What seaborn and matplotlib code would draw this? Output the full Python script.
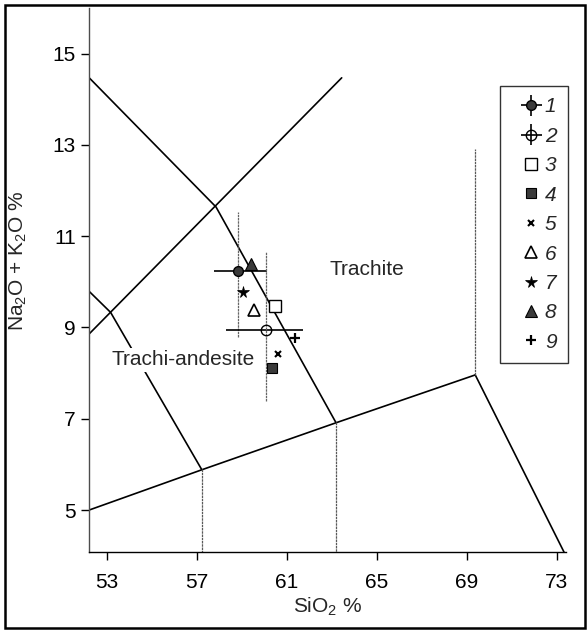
import matplotlib
matplotlib.use("Agg")
import matplotlib.pyplot as plt
from matplotlib.patches import Rectangle
import seaborn as sns
import numpy as np

# ---------------- data ----------------
# boundary lines of the TAS fields (SiO2, Na2O+K2O)
main_x = [52.23, 57.86, 63.18]
main_y = [14.47, 11.64, 6.92]
upper_x = [52.23, 63.44]
upper_y = [8.86, 14.47]
left_x = [52.23, 53.18, 57.22]
left_y = [9.79, 9.33, 5.89]
lower_x = [52.23, 57.22, 63.18, 69.37]
lower_y = [5.00, 5.88, 6.91, 7.96]
right_x = [69.37, 73.31]
right_y = [7.96, 4.08]
vert_x = [57.22, 63.18, 69.37]
vert_y0 = [5.89, 6.92, 7.96]
vert_y1 = [4.08, 4.08, 12.91]

# samples
sample_ids = ["1", "2", "3", "4", "5", "6", "7", "8", "9"]
sample_x = [58.85, 60.08, 60.48, 60.33, 60.63, 59.55, 59.07, 59.41, 61.37]
sample_y = [10.24, 8.95, 9.48, 8.11, 8.42, 9.39, 9.77, 10.39, 8.77]
# ranges for samples 1 and 2
err_x_low = [57.77, 58.30]
err_x_high = [60.11, 61.74]
err_y_low = [8.80, 7.39]
err_y_high = [11.54, 10.66]

x_ticks = [53, 57, 61, 65, 69, 73]
y_ticks = [5, 7, 9, 11, 13, 15]

field_labels = ["Trachite", "Trachi-andesite"]
field_x = [64.56, 56.41]
field_y = [10.28, 8.29]

# ---------------- style ----------------
sns.set_theme(style="ticks")
plt.rcParams["font.family"] = ["Liberation Sans", "DejaVu Sans"]
plt.rcParams["mathtext.fontset"] = "custom"
plt.rcParams["mathtext.rm"] = "Liberation Sans"
plt.rcParams["mathtext.it"] = "Liberation Sans:italic"
plt.rcParams["mathtext.default"] = "regular"

W, H = 588, 631
fig = plt.figure(figsize=(W / 100, H / 100), dpi=100)
ax = fig.add_axes([89 / W, 1 - 552 / H, (566 - 89) / W, (552 - 8) / H])

lw = 1.2
for xs, ys in [(main_x, main_y), (upper_x, upper_y), (left_x, left_y),
               (lower_x, lower_y), (right_x, right_y)]:
    sns.lineplot(x=xs, y=ys, ax=ax, sort=False, estimator=None,
                 color="black", lw=lw, zorder=2)
for vx, a, b in zip(vert_x, vert_y0, vert_y1):
    ax.plot([vx, vx], [a, b], color="0.35", lw=0.9, ls=(0, (2, 0.6)), zorder=2)

# field labels
for lab, fx, fy in zip(field_labels, field_x, field_y):
    ax.text(fx, fy, lab, ha="center", va="center", fontsize=15, zorder=3,
            bbox=dict(facecolor="white", edgecolor="none", pad=2))

# samples with ranges
handles = []
dark = "#3a3a3a"
e1 = ax.errorbar(sample_x[0], sample_y[0],
                 xerr=[[sample_x[0] - err_x_low[0]], [err_x_high[0] - sample_x[0]]],
                 yerr=[[sample_y[0] - err_y_low[0]], [err_y_high[0] - sample_y[0]]],
                 fmt="o", ms=7, mfc=dark, mec="black", ecolor="black",
                 elinewidth=1.2, capsize=0, zorder=5)
e2 = ax.errorbar(sample_x[1], sample_y[1],
                 xerr=[[sample_x[1] - err_x_low[1]], [err_x_high[1] - sample_x[1]]],
                 yerr=[[sample_y[1] - err_y_low[1]], [err_y_high[1] - sample_y[1]]],
                 fmt="o", ms=7.5, mfc="none", mec="black", mew=1.0, ecolor="black",
                 elinewidth=1.2, capsize=0, zorder=5)
for e in (e1, e2):
    e[2][1].set_color("0.4")
    e[2][1].set_linewidth(0.9)
    e[2][1].set_linestyle((0, (2, 0.6)))
handles += [e1, e2]

styles = [
    dict(marker="s", ms=8.5, mfc="white", mec="black", mew=1.0),
    dict(marker="s", ms=7, mfc=dark, mec="black", mew=0.8),
    dict(marker="x", ms=4.5, mec="black", mew=1.5),
    dict(marker="^", ms=8.5, mfc="white", mec="black", mew=1.2),
    dict(marker="*", ms=8.5, mfc="black", mec="black", mew=0.5),
    dict(marker="^", ms=8, mfc=dark, mec="black", mew=0.8),
    dict(marker="+", ms=6.5, mec="black", mew=1.6),
]
for i, st in enumerate(styles):
    h, = ax.plot([sample_x[i + 2]], [sample_y[i + 2]], ls="none", zorder=5, **st)
    handles.append(h)

# axes
ax.set_xlim(52.22, 73.4)
ax.set_ylim(4.08, 16.0)
ax.set_xticks(x_ticks)
ax.set_yticks(y_ticks)
ax.tick_params(axis="both", direction="out", length=6, width=1, colors="black",
               labelsize=15)
ax.tick_params(axis="x", pad=9)
ax.tick_params(axis="y", pad=3.5)
sns.despine(ax=ax)
ax.spines["left"].set_color("0.3")
ax.spines["bottom"].set_color("black")
ax.spines["left"].set_linewidth(1.0)
ax.spines["bottom"].set_linewidth(1.0)
ax.set_facecolor("white")

ax.set_xlabel("SiO$_2$ %", fontsize=15, labelpad=3)
ax.set_ylabel("Na$_2$O + K$_2$O %", fontsize=15)
ax.yaxis.set_label_coords(-0.125, 0.535)

leg = ax.legend(handles, sample_ids, loc="upper left",
                bbox_to_anchor=(500 / W, 1 - 86 / H), bbox_transform=fig.transFigure,
                borderaxespad=0, frameon=True, fancybox=False, edgecolor="black",
                prop=dict(family="Liberation Sans", style="italic", size=15),
                handlelength=1.9, handletextpad=-0.3, borderpad=0.55,
                labelspacing=0.5)
leg.get_frame().set_linewidth(1.0)

fig.patches.append(Rectangle((5 / W, 3 / H), (585 - 5) / W, (626 - 3) / H,
                             transform=fig.transFigure, fill=False,
                             lw=1.8, ec="black"))

fig.savefig("out.png", dpi=100, facecolor="white")
